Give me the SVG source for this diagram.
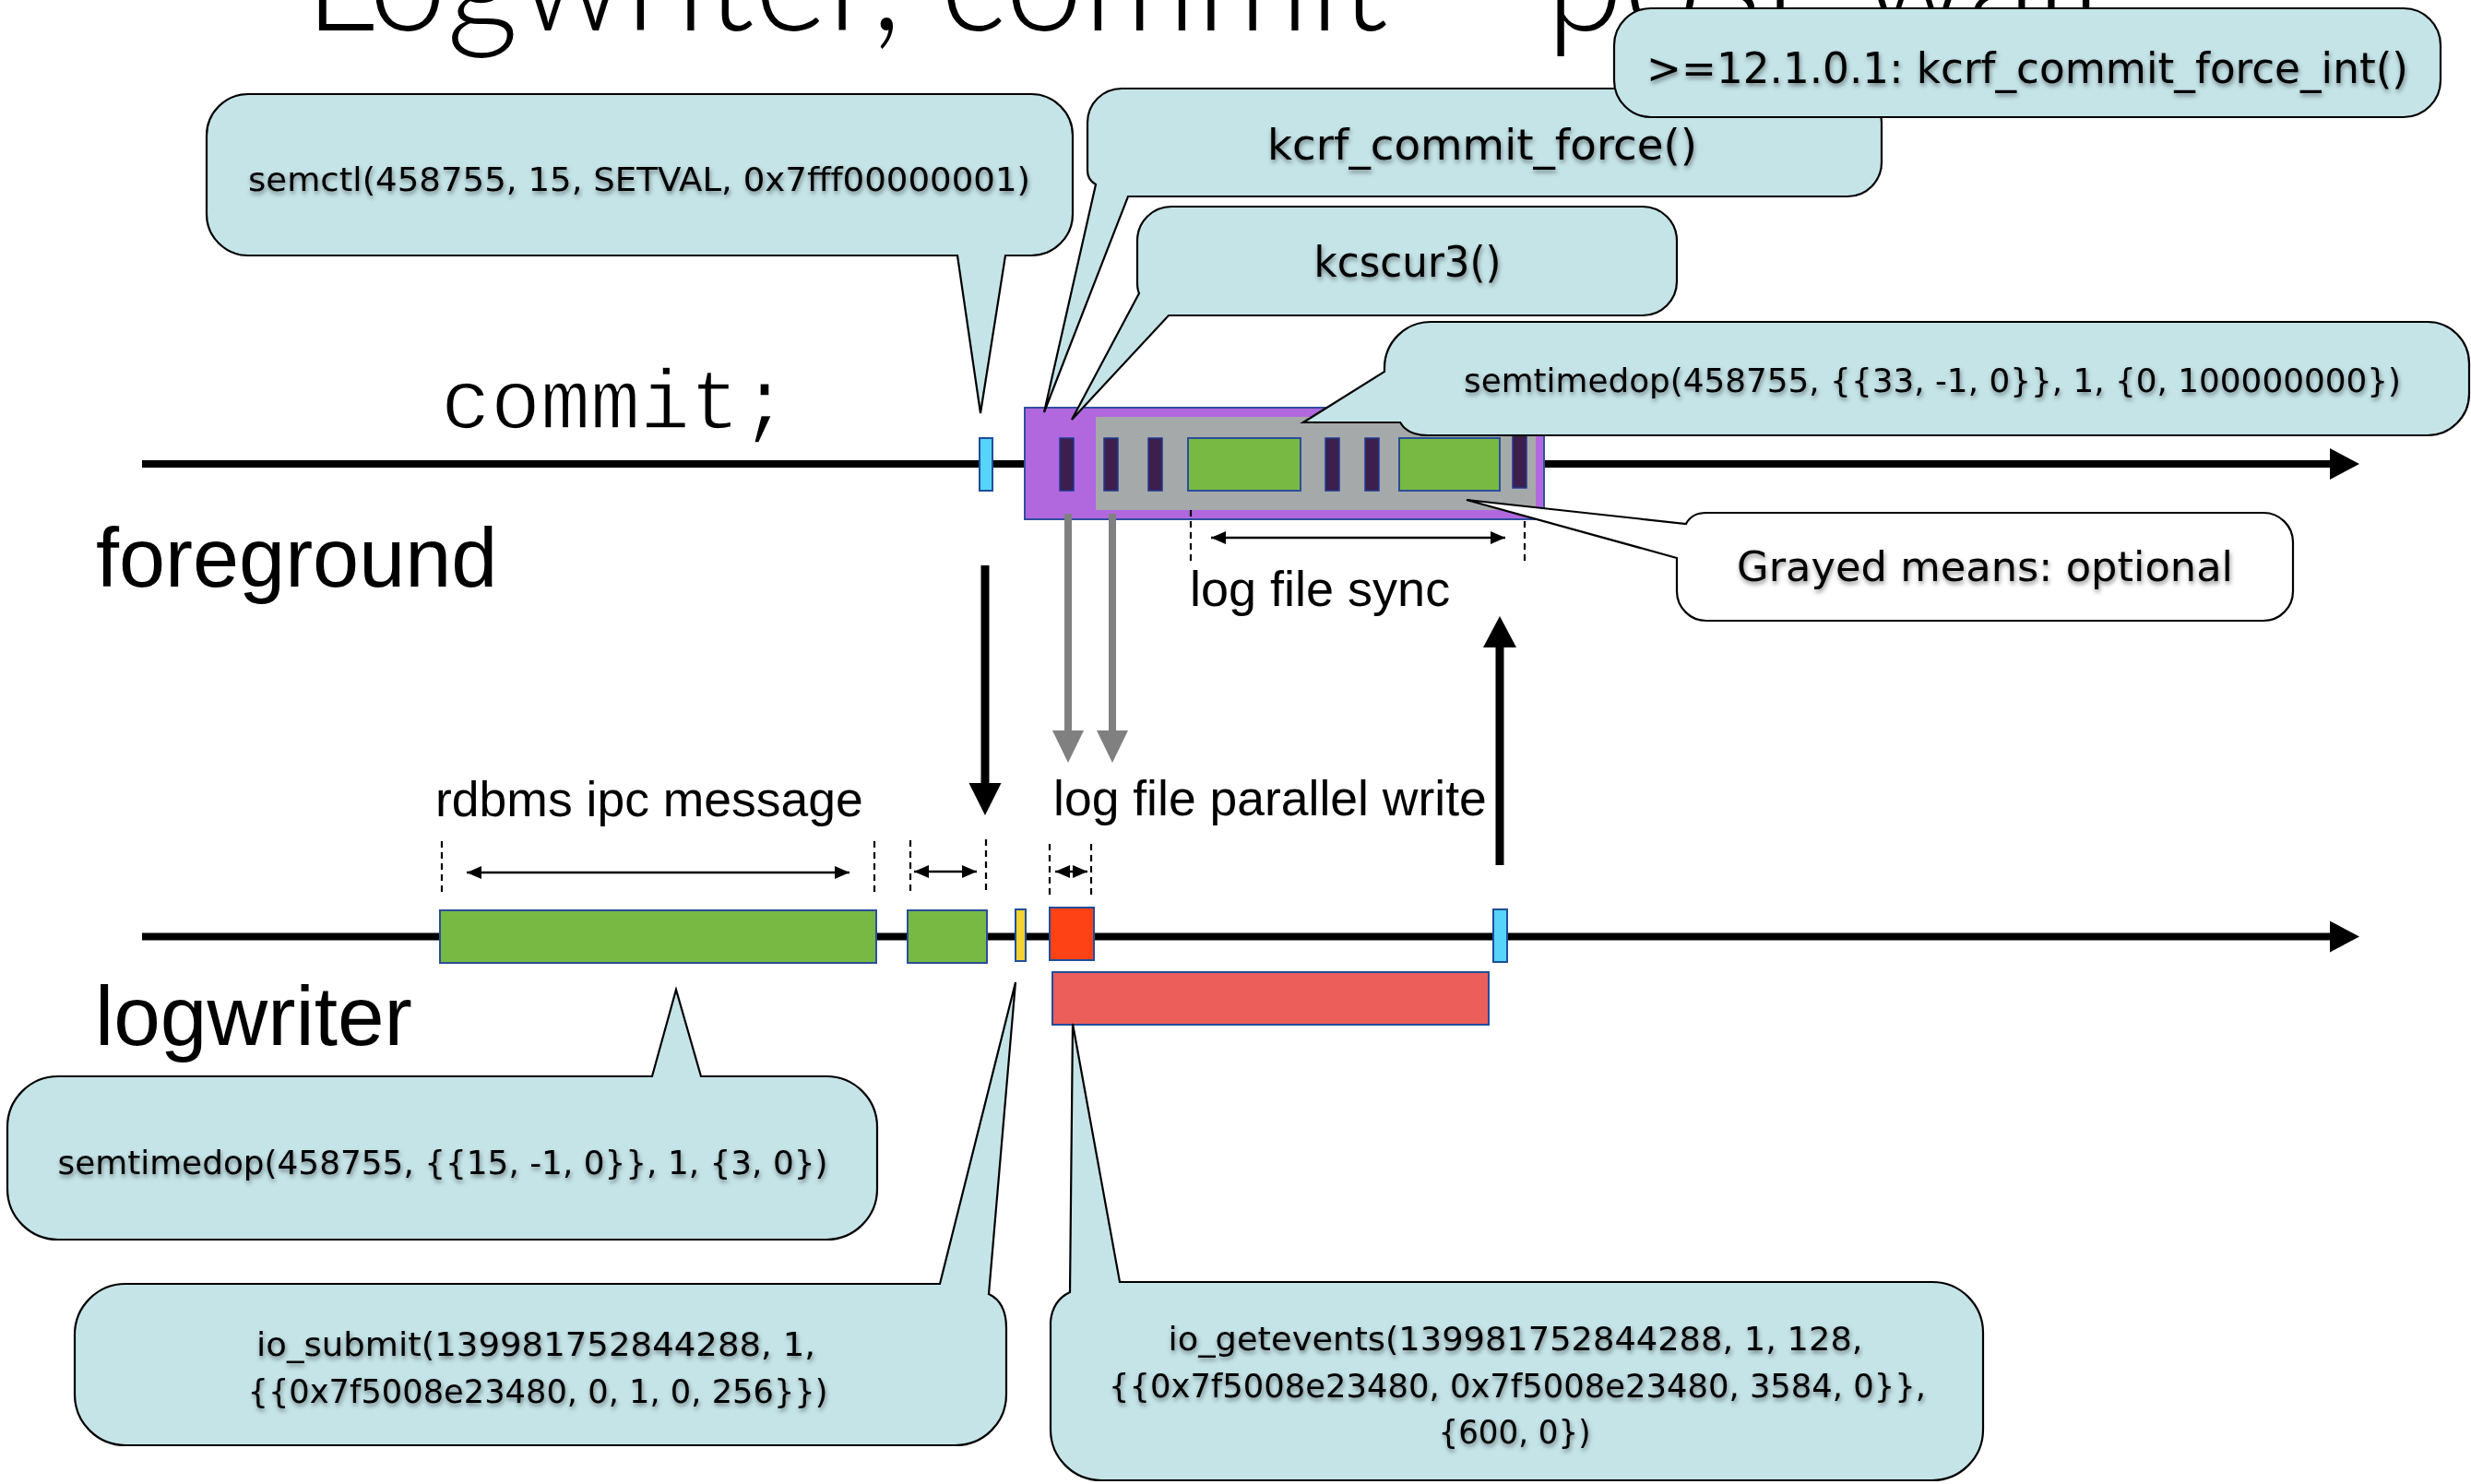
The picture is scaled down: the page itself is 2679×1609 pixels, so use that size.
<svg xmlns="http://www.w3.org/2000/svg" width="2679" height="1609" viewBox="0 0 2679 1609">
<defs>
<style>
.co{fill:#C5E4E8;stroke:#000;stroke-width:2.2;stroke-linejoin:miter}
.cw{fill:#FFFFFF;stroke:#000;stroke-width:2.2}
.ct{font-family:"DejaVu Sans","Liberation Sans",sans-serif;fill:#000;text-anchor:middle;filter:url(#ts)}
.lbl{font-family:"Liberation Sans",Arial,sans-serif;fill:#000}
.bar{fill:#3C1F4C;stroke:#1F3A93;stroke-width:1.5}
.grn{fill:#78B943;stroke:#2A4F9A;stroke-width:2}
.blu{fill:#56D4FA;stroke:#1F4E9A;stroke-width:2}
.dash{stroke:#000;stroke-width:2.2;stroke-dasharray:7 5;fill:none}
.dim{stroke:#000;stroke-width:2.5;fill:none;marker-start:url(#ah);marker-end:url(#ah)}
.tl{stroke:#000;stroke-width:8;fill:none}
</style>
<filter id="ts" x="-5%" y="-40%" width="110%" height="180%">
<feDropShadow dx="1" dy="3" stdDeviation="2.5" flood-color="#000" flood-opacity="0.45"/>
</filter>
<marker id="ah" viewBox="0 0 16 14" markerUnits="userSpaceOnUse" markerWidth="16" markerHeight="14" refX="16" refY="7" orient="auto-start-reverse">
<path d="M0,0 L16,7 L0,14 Z" fill="#000"/>
</marker>
</defs>

<g id="title">
<text x="330" y="33" font-family="Lato,'Open Sans','Liberation Sans',sans-serif" font-weight="300" font-size="160" textLength="1963" lengthAdjust="spacingAndGlyphs">Logwriter, commit – post-wait</text>
</g>

<g id="labels">
<text x="478" y="464" font-size="90" fill="#000" stroke="#fff" stroke-width="1.6" paint-order="normal" style="font-family:'Liberation Mono','Courier New',monospace">commit;</text>
<text class="lbl" x="104" y="636" font-size="90">foreground</text>
<text class="lbl" x="103" y="1133" font-size="91">logwriter</text>
<text class="lbl" x="1290" y="657" font-size="54">log file sync</text>
<text class="lbl" x="1142" y="884" font-size="53.5">log file parallel write</text>
<text class="lbl" x="472" y="885" font-size="53.5">rdbms ipc message</text>
</g>

<g id="timelines">
<line class="tl" x1="154" y1="503" x2="2528" y2="503"/>
<polygon points="2526,486 2558,503 2526,520" fill="#000"/>
<line class="tl" x1="154" y1="1015.5" x2="2528" y2="1015.5"/>
<polygon points="2526,998.5 2558,1015.5 2526,1032.5" fill="#000"/>
</g>

<g id="fg-events">
<rect class="blu" x="1062" y="475" width="14" height="57"/>
<rect x="1111" y="442" width="563" height="121" fill="#B168DF" stroke="#2F4F9F" stroke-width="2"/>
<rect x="1188" y="452" width="477" height="101" fill="#A6A9A9"/>
<rect class="bar" x="1149" y="475" width="15" height="57"/>
<rect class="bar" x="1197" y="475" width="15" height="57"/>
<rect class="bar" x="1245" y="475" width="15" height="57"/>
<rect class="grn" x="1288" y="475" width="122" height="57"/>
<rect class="bar" x="1437" y="475" width="15" height="57"/>
<rect class="bar" x="1480" y="475" width="15" height="57"/>
<rect class="grn" x="1517" y="475" width="109" height="57"/>
<rect class="bar" x="1640" y="466" width="15" height="63"/>
</g>

<g id="lw-events">
<rect class="grn" x="477" y="987" width="473" height="57"/>
<rect class="grn" x="984" y="987" width="86" height="57"/>
<rect x="1101" y="986" width="11" height="56" fill="#F4D22F" stroke="#1F4E9A" stroke-width="2"/>
<rect x="1138" y="984" width="48" height="57" fill="#FE4216" stroke="#1F4E9A" stroke-width="2"/>
<rect class="blu" x="1619" y="986" width="15" height="57"/>
<rect x="1141" y="1054" width="473" height="57" fill="#EB5E5A" stroke="#1F4E9A" stroke-width="2"/>
</g>

<g id="connectors">
<line x1="1068" y1="613" x2="1068" y2="852" stroke="#000" stroke-width="9"/>
<polygon points="1050.5,849 1085.5,849 1068,884" fill="#000"/>
<line x1="1158" y1="557" x2="1158" y2="795" stroke="#808080" stroke-width="8"/>
<polygon points="1141,792 1175,792 1158,827" fill="#808080"/>
<line x1="1206" y1="557" x2="1206" y2="795" stroke="#808080" stroke-width="8"/>
<polygon points="1189,792 1223,792 1206,827" fill="#808080"/>
<line x1="1626" y1="938" x2="1626" y2="699" stroke="#000" stroke-width="9"/>
<polygon points="1608,702 1644,702 1626,668" fill="#000"/>
<line class="dash" x1="1291" y1="553" x2="1291" y2="610"/>
<line class="dash" x1="1653" y1="553" x2="1653" y2="612"/>
<line class="dim" x1="1313" y1="583" x2="1632" y2="583"/>
<line class="dash" x1="479" y1="912" x2="479" y2="968"/>
<line class="dash" x1="948" y1="912" x2="948" y2="968"/>
<line class="dim" x1="506" y1="946" x2="921" y2="946"/>
<line class="dash" x1="987" y1="911" x2="987" y2="968"/>
<line class="dash" x1="1069" y1="910" x2="1069" y2="967"/>
<line class="dim" x1="991" y1="945" x2="1059" y2="945"/>
<line class="dash" x1="1138" y1="915" x2="1138" y2="973"/>
<line class="dash" x1="1183" y1="915" x2="1183" y2="973"/>
<line class="dim" x1="1144" y1="945" x2="1179" y2="945"/>
</g>

<g id="callout-semctl">
<path class="co" d="M269,102 H1118 A45,45 0 0 1 1163,147 V232 A45,45 0 0 1 1118,277 H1090 L1063,448 L1038,277 H269 A45,45 0 0 1 224,232 V147 A45,45 0 0 1 269,102 Z"/>
<text class="ct" x="693" y="207" font-size="36" textLength="848" lengthAdjust="spacingAndGlyphs">semctl(458755, 15, SETVAL, 0x7fff00000001)</text>
</g>

<g id="callout-kcrf">
<path class="co" d="M1216,96 H2003 A37,37 0 0 1 2040,133 V176 A37,37 0 0 1 2003,213 H1223 L1132,447 L1188,200 Q1179,195 1179,185 V133 A37,37 0 0 1 1216,96 Z"/>
<text class="ct" x="1607" y="173" font-size="46" textLength="466" lengthAdjust="spacingAndGlyphs">kcrf_commit_force()</text>
</g>

<g id="callout-kcrf-int">
<rect class="co" x="1750" y="9" width="896" height="118" rx="40" ry="40"/>
<text class="ct" x="2198" y="90" font-size="46" textLength="826" lengthAdjust="spacingAndGlyphs">&gt;=12.1.0.1: kcrf_commit_force_int()</text>
</g>

<g id="callout-kcscur3">
<path class="co" d="M1270,224 H1781 A37,37 0 0 1 1818,261 V305 A37,37 0 0 1 1781,342 H1267 L1162,455 L1235,318 Q1233,314 1233,306 V261 A37,37 0 0 1 1270,224 Z"/>
<text class="ct" x="1526" y="300" font-size="46" textLength="203" lengthAdjust="spacingAndGlyphs">kcscur3()</text>
</g>

<g id="callout-semtimedop-fg">
<path class="co" d="M1551,349 H2632 A45,45 0 0 1 2677,394 V427 A45,45 0 0 1 2632,472 H1548 Q1526,472 1518,458 H1413 L1501,403 V399 A50,50 0 0 1 1551,349 Z"/>
<text class="ct" x="2095" y="425" font-size="36" textLength="1016" lengthAdjust="spacingAndGlyphs">semtimedop(458755, {{33, -1, 0}}, 1, {0, 100000000})</text>
</g>

<g id="callout-grayed">
<path class="cw" d="M1850,556 H2454 A32,32 0 0 1 2486,588 V641 A32,32 0 0 1 2454,673 H1850 A32,32 0 0 1 1818,641 V605 L1590,542 L1828,568 Q1834,556 1850,556 Z"/>
<text class="ct" x="2152" y="630" font-size="45" textLength="538" lengthAdjust="spacingAndGlyphs">Grayed means: optional</text>
</g>

<g id="callout-semtimedop-lw">
<path class="co" d="M63,1167 H707 L733,1073 L760,1167 H896 A55,55 0 0 1 951,1222 V1289 A55,55 0 0 1 896,1344 H63 A55,55 0 0 1 8,1289 V1222 A55,55 0 0 1 63,1167 Z"/>
<text class="ct" x="480" y="1273" font-size="36" textLength="835" lengthAdjust="spacingAndGlyphs">semtimedop(458755, {{15, -1, 0}}, 1, {3, 0})</text>
</g>

<g id="callout-io-submit">
<path class="co" d="M136,1392 H1019 L1101,1065 L1072,1403 Q1091,1412 1091,1440 V1512 A55,55 0 0 1 1036,1567 H136 A55,55 0 0 1 81,1512 V1447 A55,55 0 0 1 136,1392 Z"/>
<text class="ct" x="581" y="1470" font-size="36" textLength="606" lengthAdjust="spacingAndGlyphs">io_submit(139981752844288, 1,</text>
<text class="ct" x="583" y="1521" font-size="36" textLength="629" lengthAdjust="spacingAndGlyphs">{{0x7f5008e23480, 0, 1, 0, 256}})</text>
</g>

<g id="callout-io-getevents">
<path class="co" d="M1214,1390 H2095 A55,55 0 0 1 2150,1445 V1550 A55,55 0 0 1 2095,1605 H1194 A55,55 0 0 1 1139,1550 V1433 Q1141,1410 1160,1401 L1163,1110 Z"/>
<text class="ct" x="1643" y="1464" font-size="36" textLength="753" lengthAdjust="spacingAndGlyphs">io_getevents(139981752844288, 1, 128,</text>
<text class="ct" x="1645" y="1515" font-size="36" textLength="886" lengthAdjust="spacingAndGlyphs">{{0x7f5008e23480, 0x7f5008e23480, 3584, 0}},</text>
<text class="ct" x="1642" y="1565" font-size="36" textLength="165" lengthAdjust="spacingAndGlyphs">{600, 0})</text>
</g>
</svg>
